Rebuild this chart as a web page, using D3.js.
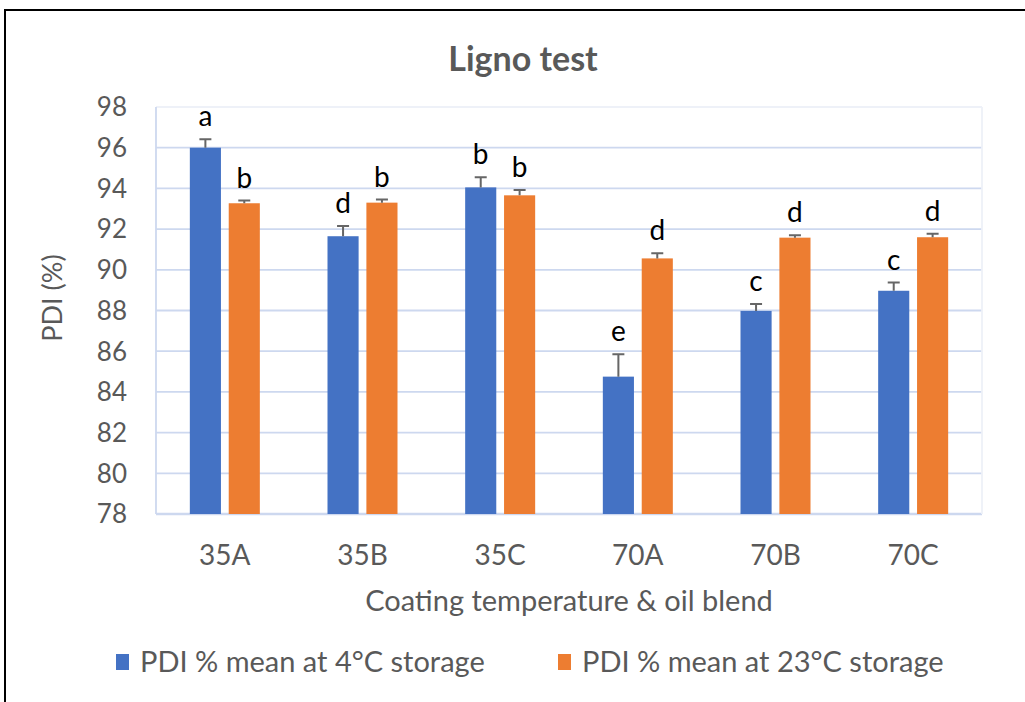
<!DOCTYPE html>
<html>
<head>
<meta charset="utf-8">
<script src="https://cdn.jsdelivr.net/npm/d3@7"></script>
<style>
  body { margin: 0; background: #FFFFFF; }
  text { font-family: Lato, "Noto Sans", sans-serif; }
</style>
</head>
<body>
<div id="vis_container" style="width:1025px;height:702px;"></div>
<script>
// chart data
var categories = ["35A", "35B", "35C", "70A", "70B", "70C"];
var seriesNames = ["PDI % mean at 4°C storage", "PDI % mean at 23°C storage"];
var mean4 = [96.0, 91.65, 94.05, 84.75, 87.98, 88.97];
var err4 = [0.42, 0.5, 0.5, 1.1, 0.34, 0.4];
var mean23 = [93.27, 93.3, 93.66, 90.56, 91.58, 91.6];
var err23 = [0.13, 0.15, 0.26, 0.25, 0.12, 0.17];
var letters4 = ["a", "d", "b", "e", "c", "c"];
var letters23 = ["b", "b", "b", "d", "d", "d"];
var yTicks = [78, 80, 82, 84, 86, 88, 90, 92, 94, 96, 98];

var chart = {};
chart.width = 1025;
chart.height = 702;
chart.margin = {"top": 107, "left": 156, "right": 43, "bottom": 188};
chart.colors = ["#4472C4", "#ED7D31"];
chart.textColor = "#595959";

chart.svg = d3.select("#vis_container").append("svg")
	.attr("width", chart.width)
	.attr("height", chart.height)
	.style("background-color", "#FFFFFF");

// outer frame (only left and top edges visible)
chart.svg.append("rect")
	.attr("x", 5)
	.attr("y", 10)
	.attr("width", 1100)
	.attr("height", 800)
	.attr("fill", "none")
	.attr("stroke", "#000000")
	.attr("stroke-width", 2);

var rows = categories.map(function(c, i) {
	return {
		cat: c,
		values: [
			{s: 0, v: mean4[i], e: err4[i], l: letters4[i]},
			{s: 1, v: mean23[i], e: err23[i], l: letters23[i]}
		]
	};
});

chart.x0 = d3.scaleBand()
	.domain(categories)
	.range([chart.margin.left, chart.width - chart.margin.right]);

chart.x1 = d3.scaleBand()
	.domain([0, 1])
	.range([chart.x0.bandwidth() / 2 - 35, chart.x0.bandwidth() / 2 + 35])
	.paddingInner(0.2);

chart.y = d3.scaleLinear()
	.domain([78, 98])
	.range([chart.height - chart.margin.bottom, chart.margin.top]);

var plotLeft = chart.margin.left;
var plotRight = chart.width - chart.margin.right;

// gridlines
chart.svg.append("g").selectAll("line")
	.data(yTicks)
	.enter().append("line")
	.attr("x1", plotLeft)
	.attr("x2", plotRight)
	.attr("y1", function(d) { return chart.y(d); })
	.attr("y2", function(d) { return chart.y(d); })
	.attr("stroke", function(d) { return d == 98 ? "#EEF1F8" : "#CDD8EF"; })
	.attr("stroke-width", function(d) { return d == 78 ? 2.5 : 1.8; });

chart.svg.append("line")
	.attr("x1", plotRight).attr("x2", plotRight)
	.attr("y1", chart.y(98)).attr("y2", chart.y(78))
	.attr("stroke", "#EEF1F8").attr("stroke-width", 1.8);
chart.svg.append("line")
	.attr("x1", plotLeft).attr("x2", plotLeft)
	.attr("y1", chart.y(98)).attr("y2", chart.y(78))
	.attr("stroke", "#CDD8EF").attr("stroke-width", 1.8);

// y tick labels
chart.svg.append("g").selectAll("text")
	.data(yTicks)
	.enter().append("text")
	.attr("x", 127)
	.attr("y", function(d) { return chart.y(d); })
	.attr("dy", "0.36em")
	.attr("text-anchor", "end")
	.attr("font-size", 26)
	.attr("fill", chart.textColor)
	.text(function(d) { return d; });

// x category labels
chart.svg.append("g").selectAll("text")
	.data(categories)
	.enter().append("text")
	.attr("x", function(d) { return chart.x0(d) + chart.x0.bandwidth() / 2; })
	.attr("y", 565)
	.attr("text-anchor", "middle")
	.attr("font-size", 28)
	.attr("fill", chart.textColor)
	.text(function(d) { return d; });

// bars, error bars, letters
var groups = chart.svg.append("g").selectAll("g")
	.data(rows)
	.enter().append("g")
	.attr("transform", function(d) { return "translate(" + chart.x0(d.cat) + ",0)"; });

groups.selectAll("rect")
	.data(function(d) { return d.values; })
	.enter().append("rect")
	.attr("x", function(d) { return chart.x1(d.s); })
	.attr("width", chart.x1.bandwidth())
	.attr("y", function(d) { return chart.y(d.v); })
	.attr("height", function(d) { return chart.y(78) - chart.y(d.v); })
	.attr("fill", function(d) { return chart.colors[d.s]; });

groups.selectAll("path.err")
	.data(function(d) { return d.values; })
	.enter().append("path")
	.attr("class", "err")
	.attr("d", function(d) {
		var cx = chart.x1(d.s) + chart.x1.bandwidth() / 2;
		var top = chart.y(d.v + d.e);
		return "M" + cx + "," + chart.y(d.v) + "V" + top + "M" + (cx - 6) + "," + top + "H" + (cx + 6);
	})
	.attr("fill", "none")
	.attr("stroke", "#666666")
	.attr("stroke-width", 2);

groups.selectAll("text.letter")
	.data(function(d) { return d.values; })
	.enter().append("text")
	.attr("class", "letter")
	.attr("x", function(d) { return chart.x1(d.s) + chart.x1.bandwidth() / 2; })
	.attr("y", function(d) { return chart.y(d.v + d.e) - 13; })
	.attr("text-anchor", "middle")
	.attr("font-size", 28)
	.attr("fill", "#000000")
	.text(function(d) { return d.l; });

// title
chart.svg.append("text")
	.attr("x", 523)
	.attr("y", 71)
	.attr("text-anchor", "middle")
	.attr("font-size", 34)
	.attr("font-weight", "bold")
	.attr("fill", chart.textColor)
	.text("Ligno test");

// axis titles
chart.svg.append("text")
	.attr("transform", "translate(62,298) rotate(-90)")
	.attr("text-anchor", "middle")
	.attr("font-size", 27)
	.attr("fill", chart.textColor)
	.text("PDI (%)");

chart.svg.append("text")
	.attr("x", (plotLeft + plotRight) / 2)
	.attr("y", 611)
	.attr("text-anchor", "middle")
	.attr("font-size", 29)
	.attr("fill", chart.textColor)
	.text("Coating temperature & oil blend");

// legend
var legendX = [116, 558];
var legend = chart.svg.append("g").selectAll("g")
	.data(seriesNames)
	.enter().append("g")
	.attr("transform", function(d, i) { return "translate(" + legendX[i] + ",654)"; });
legend.append("rect")
	.attr("width", 13)
	.attr("height", 16)
	.attr("fill", function(d, i) { return chart.colors[i]; });
legend.append("text")
	.attr("x", 24)
	.attr("y", 8)
	.attr("dy", "0.36em")
	.attr("font-size", 29)
	.attr("fill", chart.textColor)
	.text(function(d) { return d; });
</script>
</body>
</html>
